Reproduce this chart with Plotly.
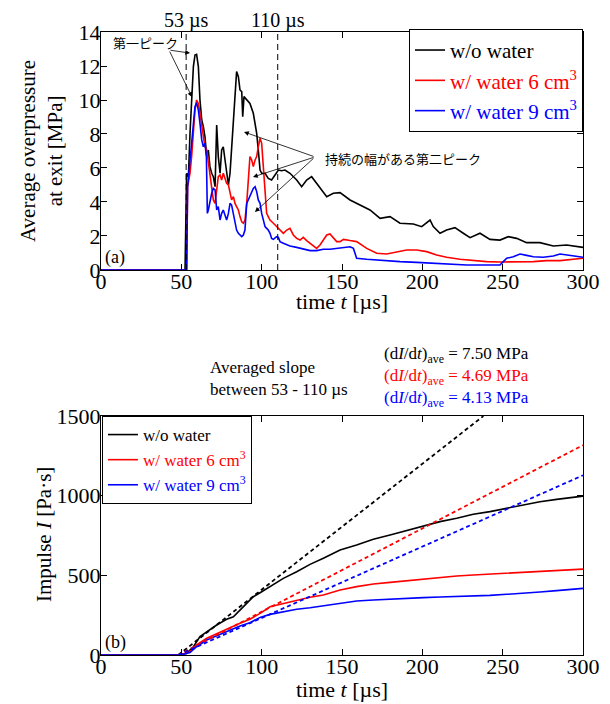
import plotly.graph_objects as go

# ---------------- data: (a) average overpressure at exit [MPa] ----------------
t_p_black = [0, 52.3, 53.3, 54.4, 55.4, 56.4, 57.5, 58.5, 59.5, 60.6, 61.6, 62.7, 63.7, 64.7, 65.8, 66.8,
             67.8, 68.9, 69.9, 71.0, 72.0, 73.0, 74.1, 75.1, 76.1, 77.2, 78.2, 79.3, 80.3, 81.3, 82.4,
             83.4, 84.4, 85.5, 86.5, 87.6, 88.2, 89.0, 90.7, 92.7, 94.8, 96.9, 97.9, 99.0, 100.0, 102.1,
             104.1, 106.2, 108.3, 110.4, 112.4, 114.5, 117.6, 121.8, 124.9, 128.0, 131.1, 134.2, 138.4,
             140.5, 144.6, 148.8, 155.0, 161.2, 167.4, 173.7, 179.9, 186.1, 194.4, 199.6, 202.7, 204.8,
             206.8, 211.0, 215.1, 220.3, 225.5, 229.7, 235.9, 242.1, 248.3, 253.5, 258.7, 264.9, 273.2,
             281.5, 289.8, 300.0]
p_black = [0, 0, 5.69, 5.49, 8.04, 10.2, 11.96, 12.65, 12.69, 11.96, 10.0, 8.82, 8.43, 7.84, 6.67, 7.06,
           6.08, 5.69, 5.49, 4.90, 8.53, 6.67, 5.69, 7.06, 7.25, 6.47, 5.69, 5.0, 5.69, 7.06, 9.02,
           10.0, 11.67, 11.37, 10.59, 10.49, 9.02, 10.2, 10.0, 9.8, 9.22, 8.04, 7.06, 5.88, 5.69, 5.69,
           5.39, 5.29, 5.59, 5.88, 5.84, 5.88, 5.69, 5.29, 4.90, 5.29, 5.49, 5.10, 4.51,
           4.31, 4.51, 4.55, 4.12, 3.82, 3.53, 3.04, 3.14, 2.75, 2.71, 2.55, 2.78, 2.94,
           2.55, 2.16, 2.35, 2.49, 2.16, 1.90, 2.16, 1.80, 1.76, 1.96, 1.86, 1.61, 1.61,
           1.41, 1.47, 1.33]

t_p_red = [0, 53.3, 53.9, 55.4, 56.4, 57.5, 58.5, 59.5, 60.6, 61.6, 62.7, 63.7, 64.7, 65.8, 66.8, 67.8,
           68.9, 69.9, 71.0, 72.0, 73.0, 74.1, 75.1, 76.1, 77.2, 78.2, 79.3, 80.3, 81.3, 82.4, 83.4,
           84.4, 85.5, 86.5, 87.6, 88.6, 89.6, 90.7, 91.7, 92.7, 93.8, 94.8, 95.9, 96.9, 97.9, 99.0,
           100.0, 101.0, 102.1, 103.1, 104.1, 105.2, 107.3, 109.3, 111.4, 113.5, 115.6, 117.6, 119.7,
           121.8, 123.9, 125.9, 128.0, 130.1, 132.2, 134.2, 136.3, 138.4, 140.5, 142.5, 144.6, 146.7,
           148.8, 150.9, 155.0, 159.1, 165.4, 171.6, 177.8, 184.0, 190.2, 196.5, 202.7, 208.9, 215.1,
           223.4, 231.7, 240.0, 248.3, 260.8, 269.1, 277.4, 285.7, 300.0]
p_red = [0, 0, 4.90, 5.69, 6.67, 8.43, 9.41, 10.0, 9.80, 9.22, 8.43, 7.84, 7.25, 7.06, 6.27, 5.69,
         4.90, 4.12, 3.92, 4.90, 5.49, 5.59, 5.29, 5.69, 5.39, 5.10, 5.0, 4.51, 4.12, 4.31, 3.92,
         3.73, 3.53, 3.14, 2.84, 2.75, 2.94, 3.92, 5.10, 6.67, 6.47, 6.08, 6.47, 6.67, 7.25, 7.75,
         7.45, 6.08, 4.51, 3.33, 3.14, 2.94, 2.75, 2.55, 2.35, 2.16, 2.35, 2.45, 2.06,
         1.86, 1.76, 1.92, 1.73, 1.57, 1.37, 1.27, 1.47, 1.76, 2.06, 2.12, 1.92, 1.67,
         1.67, 1.80, 1.73, 1.67, 1.27, 0.98, 0.94, 1.08, 1.18, 1.18, 1.08, 0.88, 0.75,
         0.63, 0.55, 0.49, 0.47, 0.49, 0.49, 0.55, 0.55, 0.69]

t_p_blue = [0, 53.3, 53.9, 55.4, 56.4, 57.5, 58.5, 59.5, 60.6, 61.6, 62.7, 63.7, 64.7, 65.6, 66.2, 66.8,
            67.8, 68.9, 69.9, 71.0, 72.0, 73.0, 74.1, 75.1, 76.1, 77.2, 78.2, 79.3, 80.3, 81.3, 82.4,
            83.4, 84.4, 85.5, 86.5, 87.6, 88.6, 89.6, 90.7, 91.7, 92.7, 93.8, 94.8, 95.9, 96.9, 97.9,
            99.0, 100.0, 101.0, 102.1, 103.1, 104.1, 105.2, 106.2, 107.3, 108.3, 109.3, 110.4, 111.4,
            113.5, 115.6, 117.6, 121.8, 125.9, 130.1, 134.2, 138.4, 142.5, 146.7, 150.9, 155.0, 157.1,
            159.1, 165.4, 175.8, 186.1, 196.5, 206.8, 217.2, 227.6, 238.0, 248.3, 250.4, 252.5, 256.6,
            260.8, 264.9, 269.1, 275.3, 281.5, 285.7, 289.8, 300.0]
p_blue = [0, 0, 4.90, 6.47, 7.65, 8.43, 9.61, 9.84, 9.41, 8.63, 7.65, 7.25, 7.45, 6.67, 3.33, 3.53,
          4.12, 4.51, 4.80, 4.71, 3.53, 3.73, 2.94, 3.33, 3.53, 3.14, 2.94, 3.33, 3.92, 3.82, 3.33,
          2.75, 2.35, 2.16, 2.06, 1.96, 2.06, 2.35, 3.92, 4.12, 4.31, 4.61, 4.80, 4.90, 4.61, 4.12,
          3.92, 3.33, 2.94, 2.55, 2.45, 2.35, 2.16, 1.86, 1.80, 1.86, 1.96, 1.92, 1.67,
          1.57, 1.47, 1.41, 1.33, 1.22, 1.14, 1.14, 1.22, 1.22, 1.27, 1.33, 1.37, 1.27,
          0.69, 0.63, 0.55, 0.49, 0.45, 0.39, 0.33, 0.29, 0.29, 0.29, 0.49, 0.69, 0.78,
          0.94, 0.86, 0.78, 0.75, 0.82, 0.94, 0.88, 0.75]

# ---------------- data: (b) impulse [Pa s] ----------------
t_i_black = [0, 48.1, 53.3, 57.5, 61.6, 65.8, 72.0, 78.2, 82.4, 86.5, 90.7, 94.8, 99.0, 105.2, 113.5,
             121.8, 130.1, 138.4, 148.8, 159.1, 169.5, 179.9, 190.2, 200.6, 211.0, 221.4, 231.7,
             242.1, 252.5, 262.9, 273.2, 283.6, 300.0]
i_black = [0, 0, 10, 52, 115, 146, 188, 224, 240, 282, 324, 366, 391, 429, 481,
           523, 569, 607, 659, 690, 726, 753, 780, 805, 837, 858, 883,
           900, 920, 941, 962, 977, 997]

t_i_red = [0, 49.2, 55.4, 59.5, 65.8, 76.1, 86.5, 92.7, 99.0, 105.2, 113.5, 121.8, 130.1, 138.4,
           148.8, 159.1, 169.5, 179.9, 190.2, 200.6, 211.0, 221.4, 231.7, 242.1, 252.5, 262.9,
           273.2, 283.6, 300.0]
i_red = [0, 0, 21, 63, 105, 153, 199, 224, 261, 303, 324, 345, 362, 377,
         408, 429, 446, 456, 466, 479, 487, 496, 502, 508, 515, 519,
         523, 529, 539]

t_i_blue = [0, 49.2, 55.4, 59.5, 65.8, 76.1, 86.5, 92.7, 99.0, 105.2, 113.5, 121.8, 130.1, 138.4,
            148.8, 159.1, 169.5, 179.9, 190.2, 200.6, 211.0, 221.4, 231.7, 242.1, 252.5, 262.9,
            273.2, 283.6, 300.0]
i_blue = [0, 0, 15, 52, 94, 140, 182, 203, 236, 255, 272, 287, 297, 308,
          324, 339, 345, 351, 356, 360, 364, 366, 370, 374, 381, 387,
          395, 404, 418]

# averaged-slope lines (53-110 us fit), end points
t_fit_black = [48.1, 238.0]
i_fit_black = [0, 1500]
t_fit_red = [48.1, 300.0]
i_fit_red = [0, 1317]
t_fit_blue = [48.1, 300.0]
i_fit_blue = [0, 1128]

marker_times = [53, 110]
slope_labels = ["7.50", "4.69", "4.13"]

names = ["w/o water", "w/ water 6 cm<sup>3</sup>", "w/ water 9 cm<sup>3</sup>"]
colors = ["#000000", "#ff0000", "#0000ff"]

SERIF = "Liberation Serif, Times New Roman, serif"
JP = "Noto Sans CJK JP"

fig = go.Figure()

# (a)
for tt, pp, nm, c in zip([t_p_black, t_p_red, t_p_blue], [p_black, p_red, p_blue], names, colors):
    fig.add_trace(go.Scatter(x=tt, y=pp, mode="lines", line=dict(color=c, width=1.6),
                             name=f"<span style='color:{c}'>{nm}</span>",
                             xaxis="x", yaxis="y", legend="legend"))
for mt in marker_times:
    fig.add_trace(go.Scatter(x=[mt, mt], y=[0, 14], mode="lines",
                             line=dict(color="black", width=1, dash="6px,4px"),
                             showlegend=False, xaxis="x", yaxis="y", hoverinfo="skip"))

# (b)
for tt, ii, nm, c in zip([t_i_black, t_i_red, t_i_blue], [i_black, i_red, i_blue], names, colors):
    fig.add_trace(go.Scatter(x=tt, y=ii, mode="lines", line=dict(color=c, width=1.6),
                             name=f"<span style='color:{c}'>{nm}</span>",
                             xaxis="x2", yaxis="y2", legend="legend2"))
for tt, ii, c in zip([t_fit_black, t_fit_red, t_fit_blue], [i_fit_black, i_fit_red, i_fit_blue], colors):
    fig.add_trace(go.Scatter(x=tt, y=ii, mode="lines", line=dict(color=c, width=1.8, dash="4px,3px"),
                             showlegend=False, xaxis="x2", yaxis="y2", hoverinfo="skip"))

axis_common = dict(showline=True, linecolor="black", linewidth=1, mirror="ticks",
                   ticks="inside", ticklen=6, tickcolor="black", showgrid=False, zeroline=False,
                   automargin=False,
                   tickfont=dict(family=SERIF, size=22, color="black"))

# the page body adds an 8 px offset, so the figure is 8 px smaller than the window
fig.update_layout(
    width=602, height=696,
    margin=dict(l=93, r=27, t=24, b=49, autoexpand=False),
    paper_bgcolor="white", plot_bgcolor="white",
    font=dict(family=SERIF, color="black"),
    xaxis=dict(domain=[0, 1], range=[0, 300], dtick=50, anchor="y", ticklabelstandoff=-8,
               **axis_common),
    yaxis=dict(domain=[0.618, 1], range=[0, 14], dtick=2, anchor="x", ticklabelstandoff=-5,
               **axis_common),
    xaxis2=dict(domain=[0, 1], range=[0, 300], dtick=50, anchor="y2", ticklabelstandoff=-8,
                **axis_common),
    yaxis2=dict(domain=[0, 0.3836], range=[0, 1500], dtick=500, anchor="x2", ticklabelstandoff=-5,
                **axis_common),
    legend=dict(x=1.0, y=1.005, xanchor="right", yanchor="top", bgcolor="white",
                bordercolor="black", borderwidth=1, font=dict(family=SERIF, size=21),
                tracegroupgap=0, itemwidth=30),
    legend2=dict(x=0.002, y=0.3836, xanchor="left", yanchor="top", bgcolor="white",
                 bordercolor="black", borderwidth=1, font=dict(family=SERIF, size=17),
                 tracegroupgap=0, itemwidth=30),
    showlegend=True,
)

ann = []
# axis titles (positions in window pixels, converted below)
ann.append(dict(x=342, y=301, xref="paper", yref="paper", xanchor="center",
                text="time <i>t</i> [µs]", showarrow=False, font=dict(family=SERIF, size=22)))
ann.append(dict(x=342, y=689, xref="paper", yref="paper", xanchor="center",
                text="time <i>t</i> [µs]", showarrow=False, font=dict(family=SERIF, size=22)))
ann.append(dict(x=41, y=151, xref="paper", yref="paper", xanchor="center", textangle=-90,
                text="Average overpressure<br>at exit [MPa]", showarrow=False,
                font=dict(family=SERIF, size=21)))
ann.append(dict(x=44, y=535, xref="paper", yref="paper", xanchor="center", textangle=-90,
                text="Impulse <i>I</i> [Pa·s]", showarrow=False, font=dict(family=SERIF, size=21)))
# dashed line labels
for mt in marker_times:
    ann.append(dict(x=mt, y=1.0, xref="x", yref="paper", yanchor="bottom", yshift=-2,
                    text=f"{mt} µs", showarrow=False, font=dict(family=SERIF, size=20)))
# panel labels
ann.append(dict(x=0.004, y=0, xref="x domain", yref="y domain", xanchor="left", yanchor="bottom",
                text="(a)", showarrow=False, font=dict(family=SERIF, size=18)))
ann.append(dict(x=0.004, y=0, xref="x2 domain", yref="y2 domain", xanchor="left", yanchor="bottom",
                text="(b)", showarrow=False, font=dict(family=SERIF, size=18)))
# Japanese annotations
ann.append(dict(x=27.4, y=13.4, xref="x", yref="y", text="第一ピーク", showarrow=False,
                font=dict(family=JP, size=13, color="black")))
for tx, ty in [(55.4, 12.76), (56.6, 10.18)]:
    ann.append(dict(x=tx, y=ty, ax=42.3, ay=12.94, xref="x", yref="y", axref="x", ayref="y",
                    text="", showarrow=True, arrowhead=2, arrowsize=1.2, arrowwidth=0.8,
                    arrowcolor="black"))
ann.append(dict(x=138.2, y=6.53, xref="x", yref="y", xanchor="left", text="持続の幅がある第二ピーク",
                showarrow=False, font=dict(family=JP, size=13, color="black")))
for tx, ty in [(89.0, 8.12), (94.6, 5.47), (95.8, 3.41)]:
    ann.append(dict(x=tx, y=ty, ax=133.2, ay=6.65, xref="x", yref="y", axref="x", ayref="y",
                    text="", showarrow=True, arrowhead=2, arrowsize=1.2, arrowwidth=0.8,
                    arrowcolor="black"))
# slope text
ann.append(dict(x=208, y=378, xref="paper", yref="paper", text="Averaged slope<br>between 53 - 110 µs",
                showarrow=False, align="left", font=dict(family=SERIF, size=17)))
for k, (lab, c) in enumerate(zip(slope_labels, colors)):
    ann.append(dict(x=382, y=355 + 22 * k, xref="paper", yref="paper", xanchor="left",
                    text=f"(d<i>I</i>/d<i>t</i>)<sub>ave</sub> = {lab} MPa", showarrow=False,
                    font=dict(family=SERIF, size=17, color=c)))

for a in ann:
    if a.get("xref") == "paper" and a["x"] > 2:
        a["x"] = (a["x"] - 101) / 482
        a["y"] = (655 - a["y"]) / 623
        a.setdefault("xanchor", "left")
        a["yanchor"] = "middle"
fig.update_layout(annotations=ann)

fig.write_html("out.html")
